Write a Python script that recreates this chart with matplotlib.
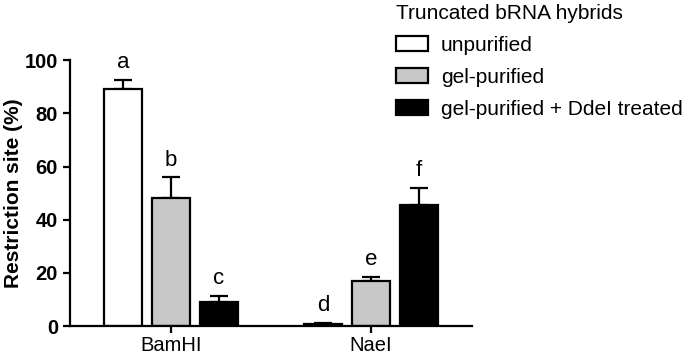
import numpy as np
import matplotlib
matplotlib.use('Agg')
from matplotlib import pyplot as plt

plt.rcParams['font.family'] = ['Liberation Sans', 'DejaVu Sans']

enzymes = ['BamHI', 'NaeI']
series = ['unpurified', 'gel-purified', 'gel-purified + DdeI treated']
colors = ['white', '#c8c8c8', 'black']
means = [[89.3, 0.8], [48.0, 17.0], [9.0, 45.5]]
errs = [[3.2, 0.4], [8.0, 1.5], [2.3, 6.5]]
letters = [['a', 'd'], ['b', 'e'], ['c', 'f']]

fig = plt.figure(figsize=(6.92, 3.54), dpi=100)
ax = fig.add_axes([0.101, 0.079, 0.581, 0.751])

x = np.arange(len(enzymes))
width = 0.19
step = 0.24
for i, (name, col) in enumerate(zip(series, colors)):
    pos = x + (i - 1) * step
    m = np.array(means[i])
    e = np.array(errs[i])
    ax.bar(pos, m, width, color=col, edgecolor='black', linewidth=1.6,
           label=name, zorder=2)
    ax.errorbar(pos, m, yerr=[np.zeros_like(e), e], fmt='none',
                ecolor='black', elinewidth=1.6, capsize=6.5, capthick=1.6,
                zorder=1)
    for p, top, lab in zip(pos, m + e, letters[i]):
        ax.text(p, top + 2.5, lab, ha='center', va='bottom', fontsize=16)

ax.set_xlim(-0.505, 1.505)
ax.set_ylim(0, 100)
ax.set_yticks([0, 20, 40, 60, 80, 100])
ax.set_xticks(x)
ax.set_xticklabels(enzymes, fontsize=14.5)
for t in ax.get_yticklabels():
    t.set_fontsize(14.5)
    t.set_fontweight('bold')
ax.set_ylabel('Restriction site (%)', fontsize=15, fontweight='bold',
              labelpad=1)
ax.spines['top'].set_visible(False)
ax.spines['right'].set_visible(False)
ax.spines['left'].set_linewidth(1.6)
ax.spines['bottom'].set_linewidth(1.6)
ax.tick_params(width=1.6, length=5)
ax.tick_params(axis='x', pad=2.5)

leg = ax.legend(loc='upper left', bbox_to_anchor=(396 / 692, 1 - 4 / 354),
                bbox_transform=fig.transFigure, frameon=False, fontsize=15,
                title='Truncated bRNA hybrids', title_fontsize=15,
                borderpad=0, borderaxespad=0,
                handlelength=1.55, handleheight=0.7, handletextpad=0.6,
                labelspacing=0.62, alignment='left')

fig.savefig('out.png', dpi=100)
